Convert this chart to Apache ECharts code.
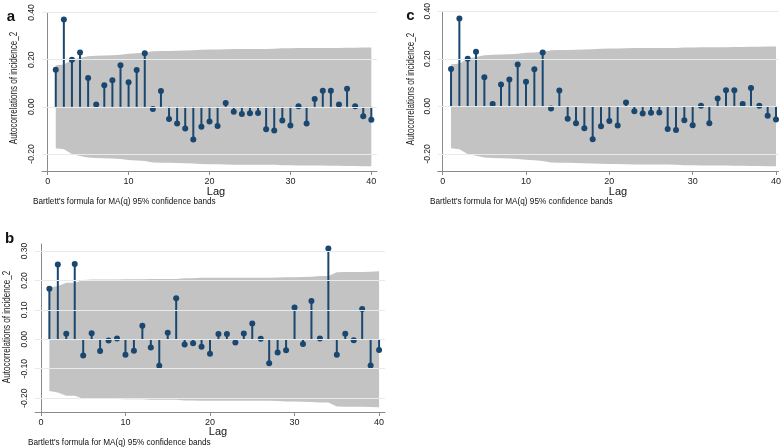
<!DOCTYPE html>
<html>
<head>
<meta charset="utf-8">
<script src="https://cdn.jsdelivr.net/npm/echarts@6/dist/echarts.min.js"></script>
<style>
html,body{margin:0;padding:0;background:#fff;}
#chart{width:784px;height:448px;}
</style>
</head>
<body>
<div id="chart"></div>
<script>
// ---- data ----
const lags = [1,2,3,4,5,6,7,8,9,10,11,12,13,14,15,16,17,18,19,20,21,22,23,24,25,26,27,28,29,30,31,32,33,34,35,36,37,38,39,40];
const acfA = [0.157,0.370,0.200,0.230,0.122,0.010,0.092,0.113,0.176,0.104,0.156,0.227,-0.009,0.067,-0.052,-0.071,-0.092,-0.138,-0.084,-0.062,-0.081,0.016,-0.021,-0.030,-0.027,-0.026,-0.095,-0.100,-0.058,-0.079,0.002,-0.071,0.033,0.068,0.068,0.010,0.077,0.003,-0.040,-0.055];
const bandA = [0.176,0.180,0.200,0.208,0.215,0.217,0.218,0.219,0.221,0.225,0.227,0.230,0.236,0.237,0.237,0.238,0.239,0.240,0.242,0.243,0.243,0.244,0.245,0.245,0.245,0.245,0.245,0.246,0.248,0.248,0.249,0.249,0.249,0.249,0.250,0.250,0.251,0.251,0.252,0.252];
const acfC = [0.157,0.370,0.200,0.230,0.122,0.010,0.092,0.113,0.176,0.104,0.156,0.227,-0.009,0.067,-0.052,-0.071,-0.092,-0.138,-0.084,-0.062,-0.081,0.016,-0.021,-0.030,-0.027,-0.026,-0.095,-0.100,-0.058,-0.079,0.002,-0.071,0.033,0.068,0.068,0.010,0.077,0.003,-0.040,-0.055];
const bandC = [0.176,0.180,0.200,0.208,0.215,0.217,0.218,0.219,0.221,0.225,0.227,0.230,0.236,0.237,0.237,0.238,0.239,0.240,0.242,0.243,0.243,0.244,0.245,0.245,0.245,0.245,0.245,0.246,0.248,0.248,0.249,0.249,0.249,0.249,0.250,0.250,0.251,0.251,0.252,0.252];
const acfB = [0.172,0.254,0.019,0.256,-0.055,0.021,-0.040,-0.004,0.003,-0.052,-0.039,0.046,-0.028,-0.090,0.022,0.140,-0.018,-0.013,-0.025,-0.049,0.018,0.018,-0.011,0.020,0.054,0.002,-0.081,-0.045,-0.037,0.108,-0.016,0.130,0.003,0.309,-0.052,0.019,-0.003,0.103,-0.089,-0.036];
const bandB = [0.176,0.181,0.192,0.192,0.202,0.203,0.203,0.203,0.203,0.204,0.204,0.204,0.205,0.205,0.205,0.205,0.208,0.208,0.209,0.209,0.209,0.209,0.209,0.209,0.209,0.209,0.209,0.210,0.211,0.211,0.212,0.213,0.215,0.215,0.228,0.229,0.229,0.229,0.230,0.231];
const xTicks = [0,10,20,30,40];
const yTicksAC = [-0.2,0,0.2,0.4];
const yTicksB = [-0.2,-0.1,0,0.1,0.2,0.3];
const yTitle = 'Autocorrelations of incidence_2';
const xTitle = 'Lag';
const note = "Bartlett's formula for MA(q) 95% confidence bands";

// ---- styles ----
const NAVY = '#1a476f';
const BAND = '#c3c3c3';
const GRIDC = '#e4ecee';
const AXC = '#8a8a8a';
const SANS = '"Liberation Sans", Arial, Helvetica, sans-serif';

const panels = [
  {acf: acfA, band: bandA, yTicks: yTicksAC, grid:{left:42, top:12.5, width:335, height:158.5}, xmin:-0.7, xmax:40.7, ymin:-0.272, ymax:0.40},
  {acf: acfC, band: bandC, yTicks: yTicksAC, grid:{left:437.7, top:8.3, width:342.3, height:162.7}, xmin:-0.6, xmax:40.3, ymin:-0.272, ymax:0.40},
  {acf: acfB, band: bandB, yTicks: yTicksB, grid:{left:35, top:244, width:350, height:168}, xmin:-0.7, xmax:40.7, ymin:-0.247, ymax:0.324}
];

const grids = [], xAxes = [], yAxes = [], series = [];
panels.forEach((p, i) => {
  grids.push(Object.assign({containLabel:false}, p.grid));
  xAxes.push({
    type:'value', gridIndex:i, min:p.xmin, max:p.xmax,
    axisLine:{show:true, onZero:false, lineStyle:{color:AXC, width:1}},
    axisTick:{show:true, length:4, lineStyle:{color:AXC}, customValues:xTicks},
    axisLabel:{show:true, customValues:xTicks, margin:6, fontSize:9, color:'#222', fontFamily:SANS},
    splitLine:{show:false}
  });
  yAxes.push({
    type:'value', gridIndex:i, min:p.ymin, max:p.ymax,
    axisLine:{show:true, lineStyle:{color:AXC, width:1}},
    axisTick:{show:true, length:4, lineStyle:{color:AXC}, customValues:p.yTicks},
    axisLabel:{show:true, customValues:p.yTicks, rotate:90, margin:6, fontSize:8.5, color:'#222', fontFamily:SANS,
      formatter: v => v.toFixed(2)},
    splitLine:{show:false}
  });
  // gridlines
  series.push({
    type:'line', xAxisIndex:i, yAxisIndex:i, data:[], z:1, silent:true,
    markLine:{silent:true, symbol:['none','none'], label:{show:false},
      lineStyle:{color:GRIDC, width:1, type:'solid'},
      data:p.yTicks.map(v => ({yAxis:v}))}
  });
  // confidence band as one polygon
  const bandData = lags.map((l,k) => [l, p.band[k]]);
  series.push({
    type:'custom', xAxisIndex:i, yAxisIndex:i, data:bandData, z:2, silent:true,
    renderItem: function(params, api) {
      if (params.dataIndex !== 0) return null;
      const pts = [];
      for (let k = 0; k < bandData.length; k++) pts.push(api.coord([bandData[k][0], bandData[k][1]]));
      for (let k = bandData.length - 1; k >= 0; k--) pts.push(api.coord([bandData[k][0], -bandData[k][1]]));
      return {type:'polygon', shape:{points:pts}, style:{fill:BAND, stroke:null}};
    }
  });
  // stems
  series.push({
    type:'bar', xAxisIndex:i, yAxisIndex:i, barWidth:2, data:lags.map((l,k) => [l, p.acf[k]]),
    itemStyle:{color:NAVY}, z:3, silent:true
  });
  // dots
  series.push({
    type:'scatter', xAxisIndex:i, yAxisIndex:i, symbolSize:6, data:lags.map((l,k) => [l, p.acf[k]]),
    itemStyle:{color:NAVY, opacity:1}, z:4, silent:true
  });
});

function txt(x, y, s, size, opts, extra) {
  return Object.assign({type:'text', x:x, y:y, silent:true, style:Object.assign({text:s, fontSize:size, fill:'#111', fontFamily:SANS, align:'center', verticalAlign:'middle'}, opts||{})}, extra||{});
}
const ROT = {rotation:Math.PI/2, scaleX:0.7};
const graphics = [
  txt(11, 17, 'a', 15, {fontWeight:'bold'}),
  txt(410.5, 16, 'c', 15, {fontWeight:'bold'}),
  txt(9.5, 239, 'b', 15, {fontWeight:'bold'}),
  txt(14, 88, yTitle, 11.5, {fill:'#222'}, ROT),
  txt(411, 89, yTitle, 11.5, {fill:'#222'}, ROT),
  txt(6.5, 327, yTitle, 11.5, {fill:'#222'}, ROT),
  txt(216, 192, xTitle, 11),
  txt(618, 192, xTitle, 11),
  txt(218, 432, xTitle, 11),
  txt(33, 202, note, 8.2, {align:'left'}),
  txt(430, 202, note, 8.2, {align:'left'}),
  txt(28, 443, note, 8.2, {align:'left'})
];

const chart = echarts.init(document.getElementById('chart'), null, {renderer:'canvas'});
chart.setOption({
  animation:false,
  backgroundColor:'#ffffff',
  grid:grids, xAxis:xAxes, yAxis:yAxes, series:series,
  graphic:graphics
});
</script>
</body>
</html>
